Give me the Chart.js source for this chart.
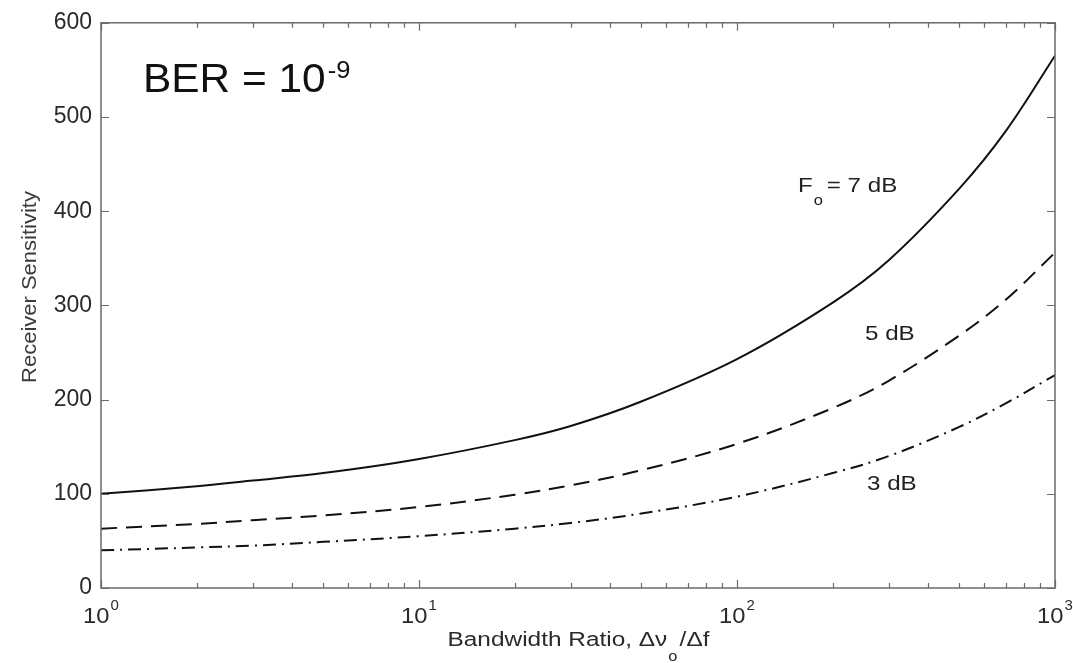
<!DOCTYPE html>
<html>
<head>
<meta charset="utf-8">
<script src="https://cdn.jsdelivr.net/npm/chart.js@4.4.1/dist/chart.umd.min.js"></script>
<style>
  html, body { margin: 0; padding: 0; background: #fff; }
  #wrap { width: 1073px; height: 663px; }
</style>
</head>
<body>
<div id="wrap"><canvas id="chart"></canvas></div>
<script>
// --- Data ---
const ratios = [1, 2, 3, 5, 10, 20, 30, 50, 100, 200, 300, 500, 700, 1000];
const sens7dB = [100, 108, 114, 122, 137, 157, 172, 198, 243, 303, 348, 424, 485, 565];
const sens5dB = [63, 68, 72, 77, 86, 99, 109, 125, 153, 191, 220, 268, 306, 356];
const sens3dB = [40, 43, 45, 49, 55, 63, 69, 79, 97, 122, 140, 171, 196, 226];
const yTicks = [0, 100, 200, 300, 400, 500, 600];
const xDecades = [0, 1, 2, 3];

const FONT = "'Liberation Sans', Arial, Helvetica, sans-serif";
const pts = arr => ratios.map((r, i) => ({ x: r, y: arr[i] }));

// draws text a bit wider than the font, like the scanned original
function wideText(ctx, txt, x, y, size, sx) {
    ctx.save();
    ctx.font = size + "px " + FONT;
    ctx.translate(x, y);
    ctx.scale(sx, 1);
    ctx.fillText(txt, 0, 0);
    const w = ctx.measureText(txt).width * sx;
    ctx.restore();
    return w;
}

// --- Frame, inside ticks and mathy labels ---
const decorPlugin = {
    id: "decor",
    afterDraw(chart) {
        const { ctx, chartArea: a, scales: { x, y } } = chart;
        ctx.save();

        // box
        ctx.strokeStyle = "#6a6a6a";
        ctx.lineWidth = 1.5;
        ctx.strokeRect(a.left, a.top, a.right - a.left, a.bottom - a.top);

        // y ticks on both sides
        ctx.lineWidth = 1.2;
        ctx.beginPath();
        yTicks.forEach(v => {
            const py = Math.round(y.getPixelForValue(v)) + 0.5;
            ctx.moveTo(a.left, py); ctx.lineTo(a.left + 8, py);
            ctx.moveTo(a.right, py); ctx.lineTo(a.right - 8, py);
        });
        // x ticks top and bottom, majors and log minors
        xDecades.forEach(d => {
            for (let m = 1; m <= 9; m++) {
                const v = m * Math.pow(10, d);
                if (v > 1000) break;
                const px = Math.round(x.getPixelForValue(v)) + 0.5;
                const len = m === 1 ? 8 : 5;
                ctx.moveTo(px, a.bottom); ctx.lineTo(px, a.bottom - len);
                ctx.moveTo(px, a.top); ctx.lineTo(px, a.top + len);
            }
        });
        ctx.stroke();

        ctx.fillStyle = "#2a2a2a";
        ctx.textBaseline = "alphabetic";
        ctx.textAlign = "left";

        // x tick labels 10^n
        xDecades.forEach(d => {
            const px = x.getPixelForValue(Math.pow(10, d));
            ctx.font = "22px " + FONT;
            const wBase = ctx.measureText("10").width * 1.08;
            ctx.font = "15px " + FONT;
            const wExp = ctx.measureText(String(d)).width;
            const x0 = px - (wBase + wExp + 1) / 2;
            wideText(ctx, "10", x0, 623, 22, 1.08);
            wideText(ctx, String(d), x0 + wBase + 1, 610, 15, 1.0);
        });

        // x axis title with subscript
        const sx = 1.22;
        ctx.font = "20px " + FONT;
        const t1 = "Bandwidth Ratio, \u0394\u03bd";
        const t2 = "/\u0394f";
        const w1 = ctx.measureText(t1).width * sx;
        const w2 = ctx.measureText(t2).width * sx;
        ctx.font = "15px " + FONT;
        const wo = ctx.measureText("o").width + 4;
        const tx = 445 + (267 - (w1 + wo + w2)) / 2;
        wideText(ctx, t1, tx, 646, 20, sx);
        wideText(ctx, "o", tx + w1 + 1, 661, 15, 1.1);
        wideText(ctx, t2, tx + w1 + wo, 646, 20, sx);

        // y axis title
        ctx.save();
        ctx.translate(36, 287);
        ctx.rotate(-Math.PI / 2);
        ctx.scale(1.1, 1);
        ctx.textAlign = "center";
        ctx.font = "20px " + FONT;
        ctx.fillStyle = "#3a3a3a";
        ctx.fillText("Receiver Sensitivity", 0, 0);
        ctx.restore();

        // BER annotation
        ctx.fillStyle = "#111";
        const wb = wideText(ctx, "BER = 10", 143, 92, 40, 1.06);
        wideText(ctx, "-9", 143 + wb + 2, 78, 24, 1.06);

        // curve labels
        ctx.fillStyle = "#222";
        const wf = wideText(ctx, "F", 798, 192, 21, 1.15);
        wideText(ctx, "o", 798 + wf + 1, 205, 15, 1.1);
        wideText(ctx, "= 7 dB", 798 + wf + 14, 192, 21, 1.15);
        wideText(ctx, "5 dB", 865, 340, 21, 1.15);
        wideText(ctx, "3 dB", 867, 490, 21, 1.15);

        ctx.restore();
    }
};

new Chart(document.getElementById("chart"), {
    type: "line",
    data: {
        datasets: [
            { label: "7 dB", data: pts(sens7dB), borderColor: "#111", borderWidth: 2 },
            { label: "5 dB", data: pts(sens5dB), borderColor: "#111", borderWidth: 2, borderDash: [16, 9] },
            { label: "3 dB", data: pts(sens3dB), borderColor: "#111", borderWidth: 2, borderDash: [13, 6, 2, 6] }
        ]
    },
    options: {
        responsive: true,
        maintainAspectRatio: false,
        animation: false,
        layout: { padding: { top: 17, right: 18, left: 0, bottom: 0 } },
        elements: {
            point: { radius: 0, hoverRadius: 0 },
            line: { tension: 0.35, fill: false }
        },
        plugins: { legend: { display: false }, tooltip: { enabled: false } },
        scales: {
            x: {
                type: "logarithmic",
                min: 1,
                max: 1000,
                grid: { display: false, drawTicks: false },
                border: { display: false },
                ticks: { display: false },
                afterFit: s => { s.height = 75; }
            },
            y: {
                min: 0,
                max: 600,
                grid: { display: false, drawTicks: false },
                border: { display: false },
                ticks: {
                    stepSize: 100,
                    padding: 9,
                    color: "#2a2a2a",
                    font: { family: FONT, size: 23 }
                },
                afterFit: s => { s.width = 101; }
            }
        }
    },
    plugins: [decorPlugin]
});
</script>
</body>
</html>
